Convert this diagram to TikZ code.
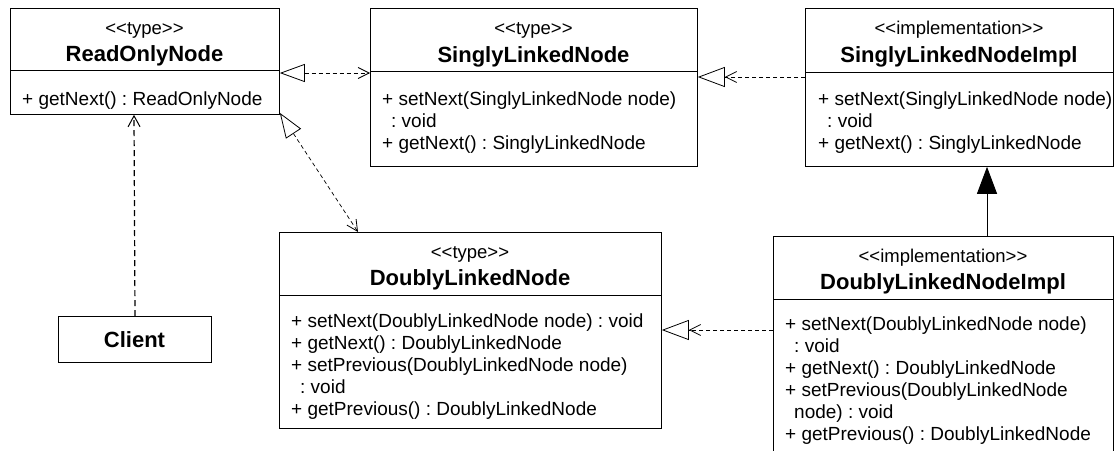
\documentclass[tikz,border=0pt]{standalone}
\usepackage{fontspec}
\newfontfamily\umlfont{Liberation Sans}
\usetikzlibrary{arrows.meta}
\begin{document}
\frenchspacing
\begin{tikzpicture}[x=1pt,y=-1pt,
  umlbox/.style={draw, line width=0.8pt, inner sep=0pt, anchor=north west},
  stereo/.style={font=\umlfont\fontsize{18.5}{22}\selectfont, anchor=base, inner sep=0pt},
  cname/.style={font=\umlfont\bfseries\fontsize{22}{26}\selectfont, anchor=base, inner sep=0pt},
  % operation lists are placed by the baseline of their last line
  ops/.style={font=\umlfont\frenchspacing\fontsize{19}{22}\selectfont, align=left, anchor=base west, inner sep=0pt},
  divider/.style={line width=0.8pt},
  dep/.style={line width=0.7pt, dash pattern=on 4pt off 3pt},
  use/.style={line width=1.2pt, dash pattern=on 6pt off 4pt},
]
\useasboundingbox (0,0) rectangle (1116,450);

% ---- ReadOnlyNode ----
\node[umlbox, minimum width=269pt, minimum height=106pt] (rol) at (10,8) {};
\draw[divider] ([yshift=-62pt]rol.north west) -- ([yshift=-62pt]rol.north east);
\node[stereo] (rolS) at (144.5,34) {<<type>>};
\node[cname] (rolN) at (144.5,61) {ReadOnlyNode};
\node[ops] (rolO) at (22,105) {+ getNext() : ReadOnlyNode};

% ---- SinglyLinkedNode ----
\node[umlbox, minimum width=327pt, minimum height=158pt] (sln) at (370,8) {};
\draw[divider] ([yshift=-63pt]sln.north west) -- ([yshift=-63pt]sln.north east);
\node[stereo] (slnS) at (533.5,34) {<<type>>};
\node[cname] (slnN) at (533.5,62) {SinglyLinkedNode};
\node[ops] (slnO) at (382,149) {+ setNext(SinglyLinkedNode node)\\\hspace*{9pt}: void\\+ getNext() : SinglyLinkedNode};

% ---- SinglyLinkedNodeImpl ----
\node[umlbox, minimum width=308pt, minimum height=158pt] (slni) at (805,8) {};
\draw[divider] ([yshift=-64pt]slni.north west) -- ([yshift=-64pt]slni.north east);
\node[stereo] (slniS) at (959,34) {<<implementation>>};
\node[cname] (slniN) at (959,62) {SinglyLinkedNodeImpl};
\node[ops] (slniO) at (818,149) {+ setNext(SinglyLinkedNode node)\\\hspace*{9pt}: void\\+ getNext() : SinglyLinkedNode};

% ---- DoublyLinkedNode ----
\node[umlbox, minimum width=382pt, minimum height=196pt] (dln) at (279,232) {};
\draw[divider] ([yshift=-63pt]dln.north west) -- ([yshift=-63pt]dln.north east);
\node[stereo] (dlnS) at (470,258) {<<type>>};
\node[cname] (dlnN) at (470,285) {DoublyLinkedNode};
\node[ops] (dlnO) at (291,415) {+ setNext(DoublyLinkedNode node) : void\\+ getNext() : DoublyLinkedNode\\+ setPrevious(DoublyLinkedNode node)\\\hspace*{9pt}: void\\+ getPrevious() : DoublyLinkedNode};

% ---- DoublyLinkedNodeImpl (runs past the lower edge) ----
\node[umlbox, minimum width=340pt, minimum height=220pt] (dlni) at (773,236) {};
\draw[divider] ([yshift=-63pt]dlni.north west) -- ([yshift=-63pt]dlni.north east);
\node[stereo] (dlniS) at (943,262) {<<implementation>>};
\node[cname] (dlniN) at (943,289) {DoublyLinkedNodeImpl};
\node[ops] (dlniO) at (785,440) {+ setNext(DoublyLinkedNode node)\\\hspace*{9pt}: void\\+ getNext() : DoublyLinkedNode\\+ setPrevious(DoublyLinkedNode\\\hspace*{9pt}node) : void\\+ getPrevious() : DoublyLinkedNode};

% ---- Client ----
\node[umlbox, line width=1pt, minimum width=153pt, minimum height=46pt] (client) at (58,316) {};
\node[cname] (clientN) at (134.5,347) {Client};

% ---- connectors ----
% SinglyLinkedNode <-> ReadOnlyNode
\draw[dep, {Triangle[open, length=25pt, width=18pt, line width=0.8pt]}-{Straight Barb[length=11pt, width=11pt, line width=0.8pt]}]
  ([yshift=-65pt]rol.north east) -- ([yshift=-65pt]sln.north west);
% DoublyLinkedNode <-> ReadOnlyNode
\draw[dep, {Triangle[open, length=25pt, width=18pt, line width=0.8pt]}-{Straight Barb[length=11pt, width=11pt, line width=0.8pt]}]
  ([yshift=2pt]rol.south east) -- ([xshift=79pt]dln.north west);
% SinglyLinkedNodeImpl -> SinglyLinkedNode
\draw[dep, -{Straight Barb[length=11pt, width=11pt, line width=0.8pt, sep=0pt] Triangle[open, length=27pt, width=20pt, line width=0.8pt, sep=0pt]}]
  ([yshift=-69pt]slni.north west) -- ([yshift=-69pt]sln.north east);
% DoublyLinkedNodeImpl -> DoublyLinkedNode
\draw[dep, -{Straight Barb[length=11pt, width=11pt, line width=0.8pt, sep=0pt] Triangle[open, length=27pt, width=20pt, line width=0.8pt, sep=0pt]}]
  ([yshift=-94pt]dlni.north west) -- ([yshift=-98pt]dln.north east);
% DoublyLinkedNodeImpl -> SinglyLinkedNodeImpl
\draw[line width=0.9pt, -{Triangle[length=27pt, width=20pt]}]
  ([xshift=214pt]dlni.north west) -- ([xshift=182pt]slni.south west);
% Client -> ReadOnlyNode
\draw[use, -{Straight Barb[length=11pt, width=12pt, line width=1pt]}]
  (client.north) -- ([xshift=124pt]rol.south west);
\end{tikzpicture}
\end{document}
